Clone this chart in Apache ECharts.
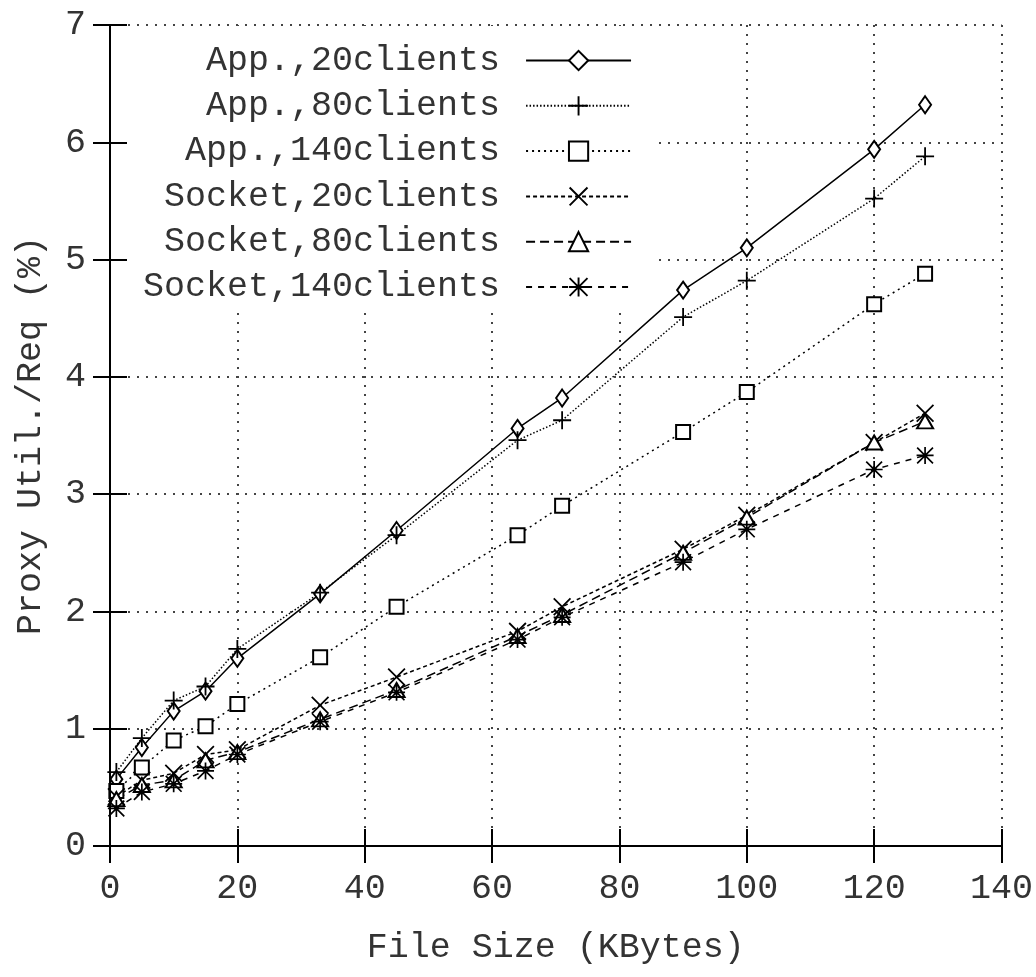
<!DOCTYPE html>
<html>
<head>
<meta charset="utf-8">
<script src="https://cdn.jsdelivr.net/npm/echarts@6/dist/echarts.min.js"></script>
<style>
  html, body { margin: 0; padding: 0; background: #fff; }
  #chart { width: 1036px; height: 977px; }
</style>
</head>
<body>
<div id="chart"></div>
<script>
// file sizes (KBytes) sampled on the x axis
const fileSizes = [1, 5, 10, 15, 20, 33, 45, 64, 71, 90, 100, 120, 128]

// proxy utilisation per request (%)
const app20 = [0.57, 0.84, 1.15, 1.32, 1.60, 2.15, 2.69, 3.56, 3.82, 4.74, 5.10, 5.94, 6.32]
const app80 = [0.63, 0.92, 1.24, 1.36, 1.68, 2.16, 2.65, 3.46, 3.63, 4.51, 4.82, 5.52, 5.88]
const app140 = [0.47, 0.67, 0.90, 1.02, 1.21, 1.61, 2.04, 2.65, 2.90, 3.53, 3.87, 4.62, 4.88]
const socket20 = [0.42, 0.56, 0.62, 0.78, 0.82, 1.20, 1.44, 1.83, 2.04, 2.53, 2.82, 3.44, 3.69]
const socket80 = [0.40, 0.52, 0.56, 0.73, 0.80, 1.08, 1.33, 1.79, 1.97, 2.50, 2.80, 3.44, 3.62]
const socket140 = [0.32, 0.46, 0.53, 0.64, 0.78, 1.06, 1.31, 1.76, 1.95, 2.42, 2.70, 3.21, 3.33]

const seriesNames = [
  'App.,20clients',
  'App.,80clients',
  'App.,140clients',
  'Socket,20clients',
  'Socket,80clients',
  'Socket,140clients',
]

const FONT = 'Liberation Mono'
const INK = '#333'

// gnuplot-like point glyphs
const PLUS = 'path://M9,0H11V9H20V11H11V20H9V11H0V9H9Z'
const CROSS = 'path://M1.4,0L10,8.6L18.6,0L20,1.4L11.4,10L20,18.6L18.6,20L10,11.4L1.4,20L0,18.6L8.6,10L0,1.4Z'
const STAR = 'path://M9,0H11V9H20V11H11V20H9V11H0V9H9Z M1.4,0L10,8.6L18.6,0L20,1.4L11.4,10L20,18.6L18.6,20L10,11.4L1.4,20L0,18.6L8.6,10L0,1.4Z'

const styles = [
  { symbol: 'emptyDiamond', size: [12, 17], dash: 'solid' },
  { symbol: PLUS, size: 18, dash: [1.5, 2] },
  { symbol: 'emptyRect', size: 14, dash: [2, 4] },
  { symbol: CROSS, size: 18, dash: [4, 3] },
  { symbol: 'emptyTriangle', size: [16, 14], dash: [9, 5] },
  { symbol: STAR, size: 17, dash: [6, 6] },
]

const values = [app20, app80, app140, socket20, socket80, socket140]

function pairs(ys) {
  return fileSizes.map((x, i) => [x, ys[i]])
}

function buildOption() {
  const axisLine = { show: true, lineStyle: { color: '#000', width: 2 } }
  const axisTick = { show: true, inside: true, length: 17, lineStyle: { color: '#000', width: 2 } }
  const gridLine = { show: true, lineStyle: { color: '#444', width: 2, type: [2, 7] } }
  const labelText = { fontFamily: FONT, fontSize: 35, color: INK }

  return {
    animation: false,
    backgroundColor: '#fff',
    grid: { left: 110, right: 31, top: 25, bottom: 131 },
    legend: {
      orient: 'vertical',
      align: 'right',
      left: 112,
      top: 26,
      padding: [17, 24, 7, 31],
      backgroundColor: '#fff',
      itemWidth: 105,
      itemHeight: 24,
      itemGap: 10.3,
      selectedMode: false,
      data: seriesNames,
      formatter: (name) => name + ' ',
      textStyle: { fontFamily: FONT, fontSize: 35, color: INK, lineHeight: 34 },
    },
    xAxis: [
      {
        type: 'value',
        min: 0,
        max: 140,
        interval: 20,
        position: 'bottom',
        z: 0,
        name: 'File Size (KBytes)',
        nameLocation: 'middle',
        nameGap: 84,
        nameTextStyle: labelText,
        axisLine,
        axisTick,
        axisLabel: { ...labelText, margin: 25 },
        splitLine: gridLine,
      },
      {
        type: 'value',
        min: 0,
        max: 140,
        interval: 20,
        position: 'top',
        z: 10,
        axisLine,
        axisTick,
        axisLabel: { show: false },
        splitLine: { show: false },
      },
    ],
    yAxis: [
      {
        type: 'value',
        min: 0,
        max: 7,
        interval: 1,
        position: 'left',
        z: 10,
        name: 'Proxy Util./Req (%)',
        nameLocation: 'middle',
        nameGap: 62,
        nameTextStyle: labelText,
        axisLine,
        axisTick,
        axisLabel: { ...labelText, margin: 24 },
        splitLine: { show: false },
      },
      {
        type: 'value',
        min: 0,
        max: 7,
        interval: 1,
        position: 'right',
        z: 0,
        axisLine,
        axisTick,
        axisLabel: { show: false },
        splitLine: gridLine,
      },
    ],
    series: seriesNames.map((name, i) => ({
      name,
      type: 'line',
      data: pairs(values[i]),
      xAxisIndex: 0,
      yAxisIndex: 0,
      symbol: styles[i].symbol,
      symbolSize: styles[i].size,
      showAllSymbol: true,
      lineStyle: { color: '#000', width: 1.5, type: styles[i].dash },
      itemStyle: { color: '#000' },
      emphasis: { disabled: true },
    })),
  }
}

const chart = echarts.init(document.getElementById('chart'))
chart.setOption(buildOption())
</script>
</body>
</html>
